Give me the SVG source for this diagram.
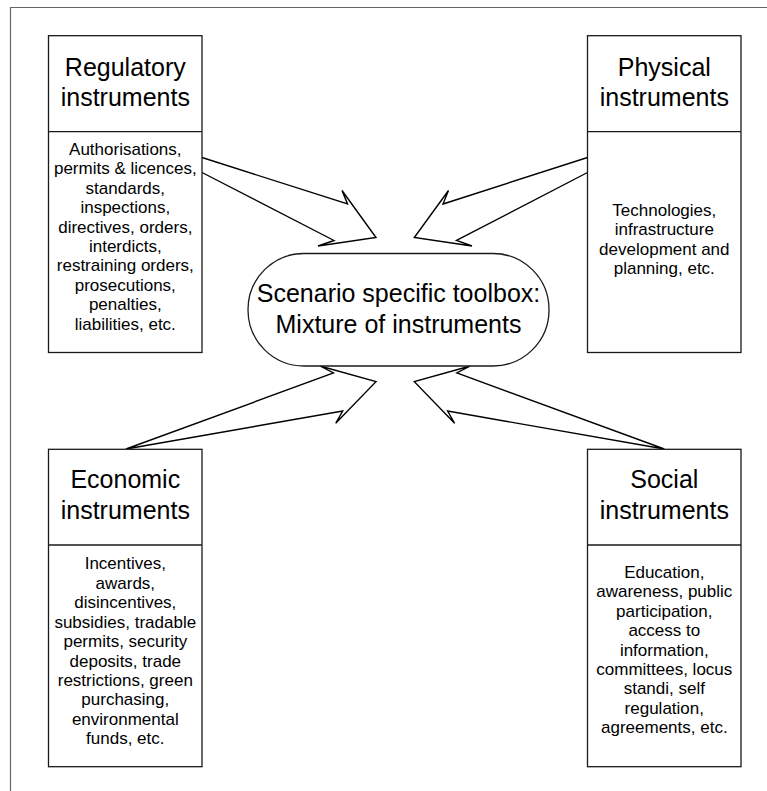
<svg xmlns="http://www.w3.org/2000/svg" width="767" height="791" viewBox="0 0 767 791">
<style>
.box{fill:#fff;stroke:#1a1a1a;stroke-width:1.3}
.div{stroke:#1a1a1a;stroke-width:1.3;fill:none}
.arrow{fill:#fff;stroke:#000;stroke-width:1.4;stroke-linejoin:miter}
.hd{font-family:"Liberation Sans",Arial,sans-serif;font-size:25px;fill:#000;text-anchor:middle}
.bd{font-family:"Liberation Sans",Arial,sans-serif;font-size:17px;fill:#000;text-anchor:middle}
</style>
<rect width="767" height="791" fill="#fff"/>
<path d="M10.5,791 V7.5 H767" fill="none" stroke="#666" stroke-width="1.2"/>
<g id="connectors">
<polyline class="arrow" points="202,157.5 347.5,204 342,190.5 376,237.5 318,246 334,240.5 202,172.5"/>
<polyline class="arrow" points="587.5,157.5 443,204 448.5,190.5 414.3,237.5 472,246 456.5,240.5 587.5,172.5"/>
<polygon class="arrow" points="126,449 333.5,373 320,366 376,381.7 335.7,423.3 342.7,411"/>
<polygon class="arrow" points="664.3,449 456.8,373 470.3,366 414.3,381.7 454.6,423.3 447.6,411"/>
</g>
<g id="regulatory">
<rect class="box" x="48.5" y="35.7" width="153.5" height="316.8"/>
<line class="div" x1="48.5" y1="131.7" x2="202" y2="131.7"/>
<text class="hd" x="125.3" y="76">Regulatory</text>
<text class="hd" x="125.3" y="106">instruments</text>
<text class="bd" x="125.3" y="155">Authorisations,</text>
<text class="bd" x="125.3" y="174.4">permits &amp; licences,</text>
<text class="bd" x="125.3" y="193.8">standards,</text>
<text class="bd" x="125.3" y="213.2">inspections,</text>
<text class="bd" x="125.3" y="232.6">directives, orders,</text>
<text class="bd" x="125.3" y="252">interdicts,</text>
<text class="bd" x="125.3" y="271.4">restraining orders,</text>
<text class="bd" x="125.3" y="290.8">prosecutions,</text>
<text class="bd" x="125.3" y="310.2">penalties,</text>
<text class="bd" x="125.3" y="329.6">liabilities, etc.</text>
</g>
<g id="physical">
<rect class="box" x="587.5" y="35.7" width="153.5" height="316.8"/>
<line class="div" x1="587.5" y1="131.7" x2="741" y2="131.7"/>
<text class="hd" x="664.3" y="76">Physical</text>
<text class="hd" x="664.3" y="106">instruments</text>
<text class="bd" x="664.3" y="216">Technologies,</text>
<text class="bd" x="664.3" y="235.4">infrastructure</text>
<text class="bd" x="664.3" y="254.8">development and</text>
<text class="bd" x="664.3" y="274.2">planning, etc.</text>
</g>
<g id="toolbox">
<rect class="box" x="248" y="253.5" width="301" height="112.5" rx="56" ry="56"/>
<text class="hd" x="398.5" y="301.7">Scenario specific toolbox:</text>
<text class="hd" x="398.5" y="332.7">Mixture of instruments</text>
</g>
<g id="economic">
<rect class="box" x="48.5" y="449.3" width="153.5" height="317.4"/>
<line class="div" x1="48.5" y1="545" x2="202" y2="545"/>
<text class="hd" x="125.3" y="488.3">Economic</text>
<text class="hd" x="125.3" y="519.3">instruments</text>
<text class="bd" x="125.3" y="569.3">Incentives,</text>
<text class="bd" x="125.3" y="588.75">awards,</text>
<text class="bd" x="125.3" y="608.2">disincentives,</text>
<text class="bd" x="125.3" y="627.65">subsidies, tradable</text>
<text class="bd" x="125.3" y="647.1">permits, security</text>
<text class="bd" x="125.3" y="666.55">deposits, trade</text>
<text class="bd" x="125.3" y="686">restrictions, green</text>
<text class="bd" x="125.3" y="705.45">purchasing,</text>
<text class="bd" x="125.3" y="724.9">environmental</text>
<text class="bd" x="125.3" y="744.35">funds, etc.</text>
</g>
<g id="social">
<rect class="box" x="587.5" y="449.3" width="153.5" height="317.4"/>
<line class="div" x1="587.5" y1="545" x2="741" y2="545"/>
<text class="hd" x="664.3" y="488.3">Social</text>
<text class="hd" x="664.3" y="519.3">instruments</text>
<text class="bd" x="664.3" y="577.7">Education,</text>
<text class="bd" x="664.3" y="597.15">awareness, public</text>
<text class="bd" x="664.3" y="616.6">participation,</text>
<text class="bd" x="664.3" y="636.05">access to</text>
<text class="bd" x="664.3" y="655.5">information,</text>
<text class="bd" x="664.3" y="674.95">committees, locus</text>
<text class="bd" x="664.3" y="694.4">standi, self</text>
<text class="bd" x="664.3" y="713.85">regulation,</text>
<text class="bd" x="664.3" y="733.3">agreements, etc.</text>
</g>
</svg>
